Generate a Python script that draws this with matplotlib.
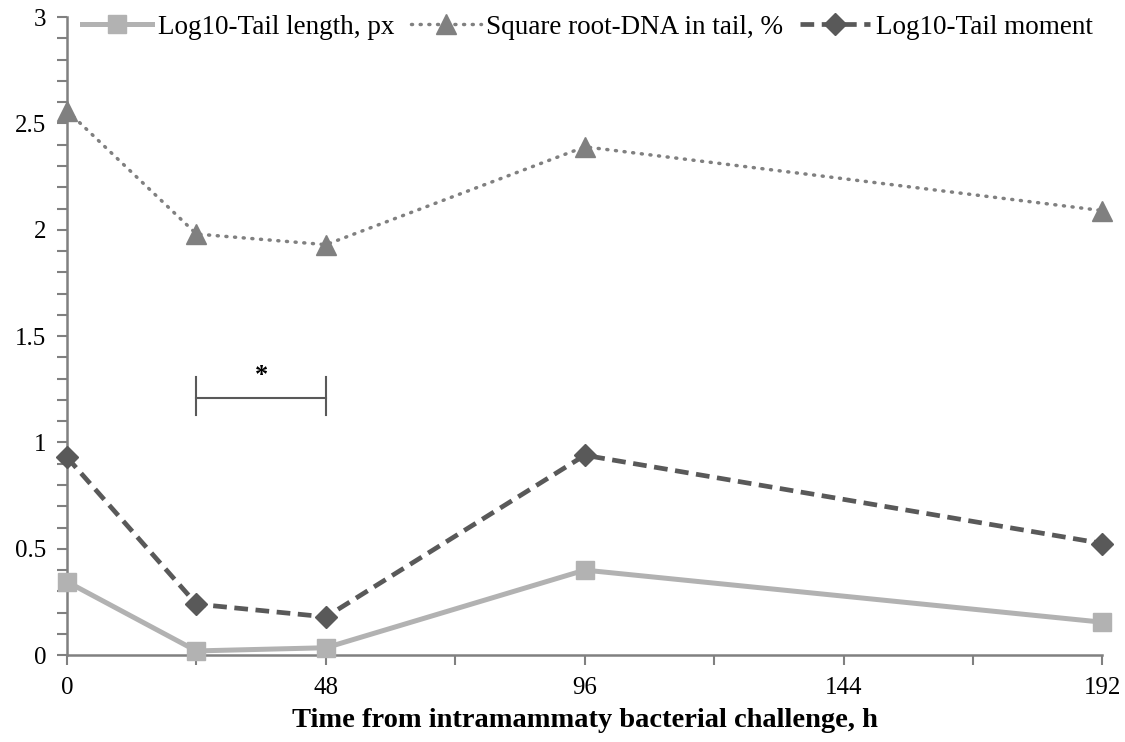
import numpy as np
import matplotlib
matplotlib.use('Agg')
import matplotlib.pyplot as plt
from matplotlib.ticker import MultipleLocator, FuncFormatter

plt.rcParams['font.family'] = ['Liberation Serif', 'DejaVu Serif']

hours = [0, 24, 48, 96, 192]
tail_length = [0.345, 0.02, 0.035, 0.40, 0.155]
dna_in_tail = [2.56, 1.98, 1.93, 2.39, 2.09]
tail_moment = [0.93, 0.24, 0.18, 0.94, 0.525]

fig = plt.figure(figsize=(11.25, 7.42), dpi=100)
ax = fig.add_axes([0.0596, 0.117, 0.9204, 0.86])

ax.plot(hours, tail_length, color='#b2b2b2', lw=3.6, marker='s', ms=13,
        label='Log10-Tail length, px', clip_on=False, zorder=3)
ax.plot(hours, dna_in_tail, color='#808080', lw=2.5, ls=(0, (0.3, 2.2)),
        dash_capstyle='round', marker='^', ms=14,
        label='Square root-DNA in tail, %', clip_on=False, zorder=3)
ax.plot(hours, tail_moment, color='#595959', lw=3.4, ls=(0, (2.9, 1.6)),
        marker='D', ms=11.5, label='Log10-Tail moment', clip_on=False, zorder=3)

# significance bracket
ax.plot([24, 48], [1.21, 1.21], color='#595959', lw=1.5)
ax.plot([24, 24], [1.13, 1.31], color='#595959', lw=1.5)
ax.plot([48, 48], [1.13, 1.31], color='#595959', lw=1.5)
ax.text(36, 1.26, '*', ha='center', va='bottom', fontsize=19, fontweight='bold')

ax.set_xlim(0, 192)
ax.set_ylim(0, 3)
ax.set_xticks([0, 48, 96, 144, 192])
ax.xaxis.set_minor_locator(MultipleLocator(24))
ax.set_yticks([0, 0.5, 1, 1.5, 2, 2.5, 3])
ax.yaxis.set_minor_locator(MultipleLocator(0.1))
ax.yaxis.set_major_formatter(FuncFormatter(lambda v, p: '{:g}'.format(v)))

for s in ['top', 'right']:
    ax.spines[s].set_visible(False)
for s in ['left', 'bottom']:
    ax.spines[s].set_color('#808080')
    ax.spines[s].set_linewidth(1.8)

ax.tick_params(which='both', color='#808080', width=1.5, length=7, labelsize=18)
ax.tick_params(axis='x', pad=9)
ax.tick_params(axis='y', pad=8)

ax.set_xlabel('Time from intramammaty bacterial challenge, h', fontsize=20.5,
              fontweight='bold', labelpad=6)

ax.legend(loc='center left', bbox_to_anchor=(0.0145, 0.984), ncol=3, frameon=False,
          fontsize=19.5, handlelength=2.6, columnspacing=0.6, handletextpad=0.2,
          borderaxespad=0, borderpad=0)

plt.savefig('out.png', dpi=100)
